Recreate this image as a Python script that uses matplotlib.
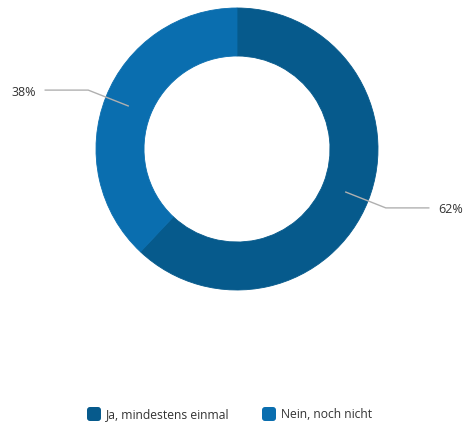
import numpy as np
import matplotlib
matplotlib.use("Agg")
import matplotlib.pyplot as plt
from matplotlib.patches import FancyBboxPatch

labels = ["Ja, mindestens einmal", "Nein, noch nicht"]
values = [62, 38]
colors = ["#065a8c", "#0a6eaf"]

W, H = 463, 427
fig = plt.figure(figsize=(W / 100, H / 100), dpi=100)
ax = fig.add_axes([0, 0, 1, 1])

cx, cy = 237, H - 150
R, ring = 141, 48
font = ["Open Sans", "DejaVu Sans"]
text_color = "#333333"

wedges, _ = ax.pie(values, colors=colors, startangle=90, counterclock=False,
                   radius=R, center=(cx, cy), frame=True,
                   wedgeprops=dict(width=ring, linewidth=0.6))
for w, c in zip(wedges, colors):
    w.set_edgecolor(c)

ax.set_xlim(0, W)
ax.set_ylim(0, H)
ax.set_aspect("equal")
ax.axis("off")

# leader lines with percentage labels
for w, v in zip(wedges, values):
    ang = np.deg2rad((w.theta1 + w.theta2) / 2)
    r0 = R - ring / 2
    p0 = (cx + r0 * np.cos(ang), cy + r0 * np.sin(ang))
    p1 = (cx + 160 * np.cos(ang), cy + 160 * np.sin(ang))
    side = 1 if np.cos(ang) > 0 else -1
    p2 = (p1[0] + side * 43, p1[1])
    ax.plot([p0[0], p1[0], p2[0]], [p0[1], p1[1], p2[1]],
            color="#b0b0b0", lw=1, zorder=3, solid_joinstyle="miter")
    ax.text(p2[0] + side * 9, p2[1] - 1, f"{v}%", ha="left" if side > 0 else "right",
            va="center", fontsize=9, color=text_color, family=font)

# legend
leg_y = H - 415
for x0, lab, c in zip([87, 262], labels, colors):
    ax.add_patch(FancyBboxPatch((x0 + 2, leg_y - 5), 10, 10,
                                boxstyle="round,pad=2,rounding_size=3",
                                facecolor=c, edgecolor="none"))
    ax.text(x0 + 19, leg_y, lab, ha="left", va="center", fontsize=8.7,
            color=text_color, family=font)

fig.savefig("out.png", dpi=100, facecolor="white")
